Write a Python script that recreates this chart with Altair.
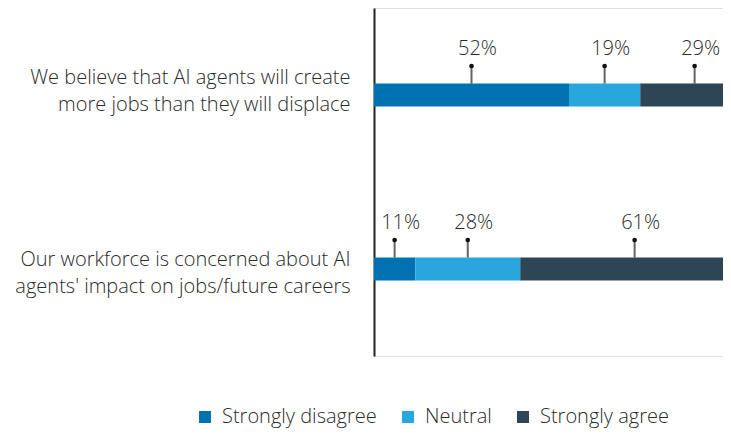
import altair as alt
import pandas as pd

questions = [
    "We believe that AI agents will create|more jobs than they will displace",
    "Our workforce is concerned about AI|agents' impact on jobs/future careers",
]
responses = ["Strongly disagree", "Neutral", "Strongly agree"]
values_q1 = [52, 19, 29]
values_q2 = [11, 28, 61]
colors = ["#0072B1", "#29A6DB", "#2D4555"]

rows = []
for q, vals in zip(questions, [values_q1, values_q2]):
    for i, (r, v) in enumerate(zip(responses, vals)):
        rows.append({"question": q, "response": r, "value": v, "order": i})
df = pd.DataFrame(rows)

FONT = "Open Sans"
TXT = "#2b2b2b"

base = (
    alt.Chart(df)
    .transform_stack(
        stack="value",
        as_=["x0", "x1"],
        groupby=["question"],
        sort=[alt.SortField("order", order="ascending")],
    )
    .transform_calculate(mid="(datum.x0 + datum.x1) / 2", label="datum.value + '%'")
)

y_enc = alt.Y(
    "question:N",
    sort=questions,
    scale=alt.Scale(paddingInner=0, paddingOuter=0),
    axis=alt.Axis(
        title=None,
        labelExpr="split(datum.label, '|')",
        ticks=False,
        domainColor="#222222",
        domainWidth=2,
        labelFontSize=20,
        labelFontWeight=300,
        labelLineHeight=27,
        labelPadding=24,
        labelLimit=400,
        labelColor=TXT,
        labelFont=FONT,
        labelOffset={"condition": {"test": "datum.index == 0", "value": -17}, "value": -9},
    ),
)
x_scale = alt.Scale(domain=[0, 93.07], nice=False, zero=True)

bars = base.mark_bar(size=23, clip=True).encode(
    x=alt.X("x0:Q", scale=x_scale, axis=None),
    x2="x1:Q",
    y=y_enc,
    color=alt.Color(
        "response:N",
        sort=responses,
        scale=alt.Scale(domain=responses, range=colors),
        legend=alt.Legend(
            title=None,
            orient="none",
            legendX=-179,
            legendY=399,
            direction="horizontal",
            columns=3,
            symbolType="square",
            symbolSize=144,
            symbolStrokeWidth=0,
            labelFontSize=20,
            labelFontWeight=300,
            labelFont=FONT,
            labelColor=TXT,
            labelOffset=7,
            columnPadding=21,
        ),
    ),
)

pins = base.mark_tick(orient="vertical", size=17, thickness=2, yOffset=-20, color="#222222").encode(
    x=alt.X("mid:Q", scale=x_scale),
    y=alt.Y("question:N", sort=questions),
)

dots = base.mark_circle(size=22, yOffset=-29, color="#111111", opacity=1).encode(
    x=alt.X("mid:Q", scale=x_scale),
    y=alt.Y("question:N", sort=questions),
)

labels = base.mark_text(
    yOffset=-46.5, dx=6, fontSize=20, fontWeight=300, font=FONT, color=TXT, baseline="middle"
).encode(
    x=alt.X("mid:Q", scale=x_scale),
    y=alt.Y("question:N", sort=questions),
    text="label:N",
)

chart = (
    alt.layer(bars, pins, dots, labels)
    .properties(
        width=349,
        height=348,
        autosize=alt.AutoSizeParams(type="none"),
        padding={"left": 366, "top": 0, "right": 0, "bottom": 74},
    )
    .configure_view(stroke=None)
    .configure(font=FONT)
)

chart.save("out.html", embed_options={"renderer": "svg", "actions": False})
